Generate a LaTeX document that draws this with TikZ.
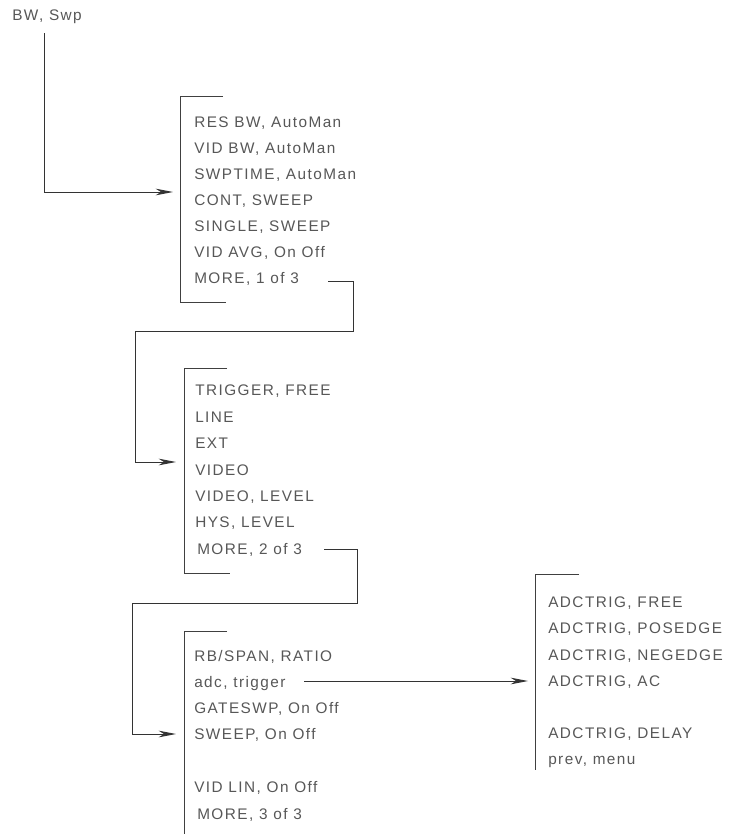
\documentclass[tikz,border=0pt]{standalone}
\usepackage{fontspec}
\setmainfont{Liberation Sans}[LetterSpace=9.5]
\usepackage{tikz}
\usetikzlibrary{arrows.meta,positioning,calc}
\tikzstyle{item}=[anchor=west,inner sep=0pt,text height=8.3pt,text depth=0pt,text=black!66,font=\fontsize{11.5}{13}\selectfont]
\tikzstyle{link}=[draw=black!80,line width=0.7pt,-{Stealth[length=13pt,width=5pt,inset=4pt]}]
\tikzstyle{bracket}=[draw=black!75,line width=0.7pt]

\begin{document}
\begin{tikzpicture}[x=0.75pt,y=-0.75pt]
\useasboundingbox (0,0) rectangle (728,834);

\node [item] (bwswp) at (12,15) {BW, Swp};

% menu 1
\draw [bracket] (223,96) -- (180,96) -- (180,302) -- (226,302);
\node [item] (resbw) at (194,122) {RES BW, AutoMan};
\node [item] (vidbw) at (194,148) {VID BW, AutoMan};
\node [item] (swptime) at (194,174) {SWPTIME, AutoMan};
\node [item] (cont) at (194,200) {CONT, SWEEP};
\node [item] (single) at (194,226) {SINGLE, SWEEP};
\node [item] (vidavg) at (194,252) {VID AVG, On Off};
\node [item] (more1) at (194,278) {MORE, 1 of 3};

% menu 2
\draw [bracket] (227,368) -- (184,368) -- (184,573) -- (230,573);
\node [item] (trigger) at (195,390) {TRIGGER, FREE};
\node [item] (line) at (195,417) {LINE};
\node [item] (ext) at (195,443) {EXT};
\node [item] (video) at (195,470) {VIDEO};
\node [item] (videolvl) at (195,496) {VIDEO, LEVEL};
\node [item] (hys) at (195,522) {HYS, LEVEL};
\node [item] (more2) at (197,549) {MORE, 2 of 3};

% menu 3
\draw [bracket] (227,631) -- (184,631) -- (184,834);
\node [item] (rbspan) at (194,656) {RB/SPAN, RATIO};
\node [item] (adc) at (194,682) {adc, trigger};
\node [item] (gateswp) at (194,708) {GATESWP, On Off};
\node [item] (sweep) at (194,734) {SWEEP, On Off};
\node [item] (vidlin) at (194,787) {VID LIN, On Off};
\node [item] (more3) at (197,814) {MORE, 3 of 3};

% menu 4
\draw [bracket] (579,574) -- (535,574) -- (535,770);
\node [item] (free) at (548,602) {ADCTRIG, FREE};
\node [item] (posedge) at (548,628) {ADCTRIG, POSEDGE};
\node [item] (negedge) at (548,655) {ADCTRIG, NEGEDGE};
\node [item] (ac) at (548,681) {ADCTRIG, AC};
\node [item] (delay) at (548,733) {ADCTRIG, DELAY};
\node [item] (prev) at (548,759) {prev, menu};

% connectors
\coordinate (m1in) at (173,192);
\coordinate (out1) at (328,281);
\coordinate (turn1) at (353,331);
\coordinate (m2in) at (176,462);
\coordinate (out2) at (324,549);
\coordinate (turn2) at (357,603);
\coordinate (m3in) at (176,734);
\coordinate (out3) at (304,681);
\coordinate (m4in) at (528,681);

\draw [link] (bwswp.south west) ++(32,12.5) |- (m1in);
\draw [link] (out1) -| (turn1) -| ($(m2in)+(-41,0)$) -- (m2in);
\draw [link] (out2) -| (turn2) -| ($(m3in)+(-44,0)$) -- (m3in);
\draw [link] (out3) -- (m4in);
\end{tikzpicture}
\end{document}
